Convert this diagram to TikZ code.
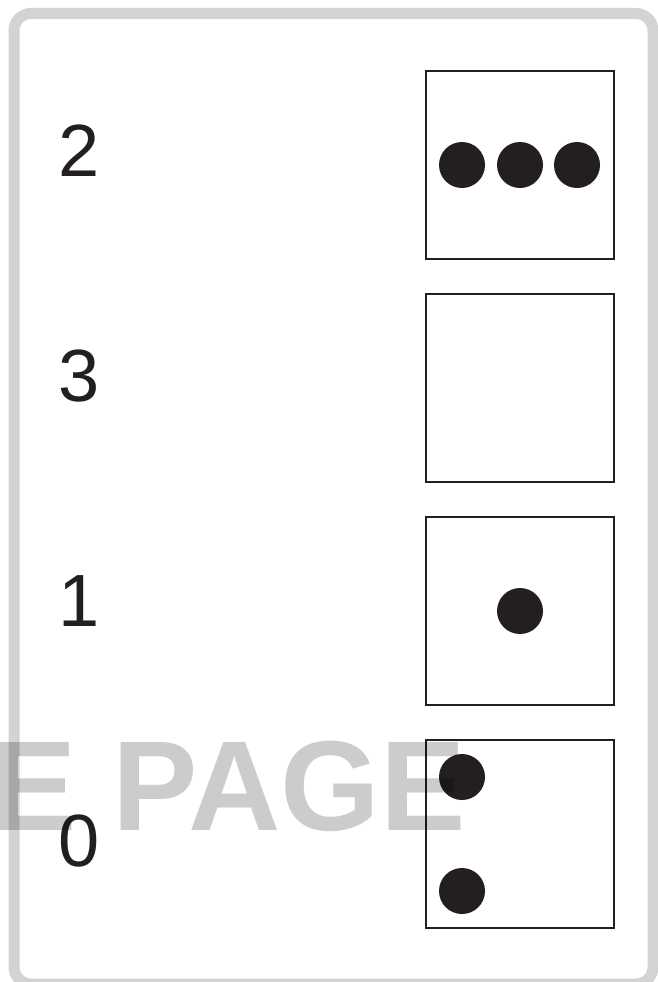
\documentclass[tikz,border=0pt]{standalone}
\usepackage{fontspec}
\setmainfont{Liberation Sans}
\definecolor{framegray}{HTML}{D2D3D5}
\definecolor{inkblack}{HTML}{231F20}
\begin{document}
\begin{tikzpicture}[x=1pt,y=-1pt,
  frame/.style={draw=framegray,line width=11pt,rounded corners=17pt},
  cell/.style={draw=inkblack,line width=2pt,minimum width=188pt,minimum height=188pt,inner sep=0pt},
  pip/.style={circle,fill=inkblack,minimum size=46pt,inner sep=0pt},
  numlabel/.style={anchor=base west,inner sep=0pt,text=inkblack,font=\fontsize{74}{74}\selectfont},
  watermark/.style={anchor=base west,inner sep=0pt,text=black,text opacity=0.2,font=\fontsize{128}{128}\selectfont\bfseries}]
\useasboundingbox (0,0) rectangle (658,982);
\fill[white] (0,0) rectangle (658,982);
\draw[frame] (14,13.5) rectangle (653,984);
% cells
\node[cell] (c2) at (519.5,165) {};
\node[cell] (c3) at (519.5,388) {};
\node[cell] (c1) at (519.5,611) {};
\node[cell] (c0) at (519.5,834) {};
% pips
\node[pip] (p2a) at (462,165) {};
\node[pip] (p2b) at (520,165) {};
\node[pip] (p2c) at (577,165) {};
\node[pip] (p1a) at (520,611) {};
\node[pip] (p0a) at (462,777) {};
\node[pip] (p0b) at (462,891) {};
% labels
\node[numlabel] (l2) at (58,176) {2};
\node[numlabel] (l3) at (58,401) {3};
\node[numlabel] (l1) at (58,626) {1};
\node[numlabel] (l0) at (58,866) {0};
% watermark
\node[watermark] (wm) at (-9,830) {E PAGE};
\end{tikzpicture}
\end{document}
